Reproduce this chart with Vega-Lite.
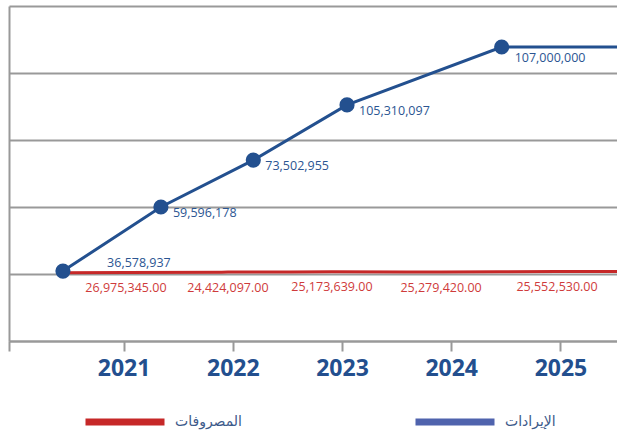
{
  "$schema": "https://vega.github.io/schema/vega-lite/v6.json",
  "width": 608,
  "height": 335,
  "autosize": {"type": "none"},
  "padding": {"left": 9, "top": 6, "right": 0, "bottom": 93},
  "background": "white",
  "config": {"view": {"stroke": null}, "font": "Open Sans"},
  "data": {
    "values": [
      {"series": "الإيرادات", "year": 2020.445, "value": 26.1, "label": "36,578,937"},
      {"series": "الإيرادات", "year": 2021.342, "value": 50.0, "label": "59,596,178"},
      {"series": "الإيرادات", "year": 2022.188, "value": 67.5, "label": "73,502,955"},
      {"series": "الإيرادات", "year": 2023.046, "value": 88.1, "label": "105,310,097"},
      {"series": "الإيرادات", "year": 2024.462, "value": 109.7, "label": "107,000,000"},
      {"series": "الإيرادات", "year": 2025.518, "value": 109.7, "label": ""},
      {"series": "المصروفات", "year": 2020.445, "value": 25.5, "label": ""},
      {"series": "المصروفات", "year": 2021.022, "value": 25.6, "label": "26,975,345.00"},
      {"series": "المصروفات", "year": 2021.956, "value": 25.7, "label": "24,424,097.00"},
      {"series": "المصروفات", "year": 2022.908, "value": 25.8, "label": "25,173,639.00"},
      {"series": "المصروفات", "year": 2023.907, "value": 25.7, "label": "25,279,420.00"},
      {"series": "المصروفات", "year": 2024.969, "value": 25.9, "label": "25,552,530.00"},
      {"series": "المصروفات", "year": 2025.518, "value": 25.9, "label": ""}
    ]
  },
  "encoding": {
    "x": {
      "field": "year",
      "type": "quantitative",
      "scale": {"domain": [2019.951, 2025.518], "nice": false, "zero": false},
      "axis": {
        "title": null,
        "values": [2019.951, 2021, 2022, 2023, 2024, 2025],
        "labelExpr": "datum.value < 2020.5 ? '' : format(datum.value, 'd')",
        "domainColor": "#999999",
        "domainWidth": 2,
        "tickColor": "#999999",
        "tickWidth": 2,
        "tickSize": 10,
        "labelFont": "Open Sans",
        "labelFontSize": 23,
        "labelFontWeight": "bold",
        "labelColor": "#234f8e",
        "labelPadding": 6,
        "grid": false,
        "labelFlush": false,
        "labelOverlap": false
      }
    },
    "y": {
      "field": "value",
      "type": "quantitative",
      "scale": {"domain": [0, 125], "nice": false, "zero": false},
      "axis": {
        "title": null,
        "values": [0, 25, 50, 75, 100, 125],
        "labels": false,
        "ticks": false,
        "domainColor": "#999999",
        "domainWidth": 2,
        "grid": true,
        "gridColor": "#999999",
        "gridWidth": 2
      }
    }
  },
  "layer": [
    {
      "transform": [{"filter": "datum.series == 'المصروفات'"}],
      "mark": {"type": "line", "strokeWidth": 3, "interpolate": "monotone"},
      "encoding": {
        "color": {
          "field": "series",
          "type": "nominal",
          "scale": {"domain": ["المصروفات", "الإيرادات"], "range": ["#c62828", "#4f63ad"]},
          "legend": {
            "orient": "none",
            "legendX": 73,
            "legendY": 373,
            "direction": "horizontal",
            "title": null,
            "symbolType": "stroke",
            "symbolSize": 6241,
            "symbolStrokeWidth": 7,
            "symbolOpacity": 1,
            "labelFont": "DejaVu Sans",
            "labelFontSize": 14,
            "labelColor": "#3d5a8a",
            "labelOffset": 7,
            "columnPadding": 158
          }
        }
      }
    },
    {
      "transform": [{"filter": "datum.series == 'الإيرادات'"}],
      "mark": {"type": "line", "strokeWidth": 3, "color": "#23508f", "interpolate": "linear"},
      "encoding": {}
    },
    {
      "transform": [{"filter": "datum.series == 'الإيرادات' && datum.label != ''"}],
      "mark": {"type": "circle", "size": 230, "color": "#23508f", "opacity": 1},
      "encoding": {}
    },
    {
      "transform": [{"filter": "datum.label == '36,578,937'"}],
      "mark": {"type": "text", "align": "center", "baseline": "middle", "dx": 76, "dy": -8.5, "fontSize": 12.5, "color": "#2b5592", "font": "Open Sans"},
      "encoding": {"text": {"field": "label"}}
    },
    {
      "transform": [{"filter": "datum.series == 'الإيرادات' && datum.label != '' && datum.label != '36,578,937' && datum.label != '107,000,000'"}],
      "mark": {"type": "text", "align": "left", "baseline": "middle", "dx": 12, "dy": 6, "fontSize": 12.5, "color": "#2b5592", "font": "Open Sans"},
      "encoding": {"text": {"field": "label"}}
    },
    {
      "transform": [{"filter": "datum.label == '107,000,000'"}],
      "mark": {"type": "text", "align": "left", "baseline": "middle", "dx": 13, "dy": 11, "fontSize": 12.5, "color": "#2b5592", "font": "Open Sans"},
      "encoding": {"text": {"field": "label"}}
    },
    {
      "transform": [{"filter": "datum.series == 'المصروفات' && datum.label != ''"}],
      "mark": {"type": "text", "align": "center", "baseline": "middle", "dy": 15.5, "fontSize": 12.5, "color": "#cf3b3b", "font": "Open Sans"},
      "encoding": {"text": {"field": "label"}}
    }
  ]
}
